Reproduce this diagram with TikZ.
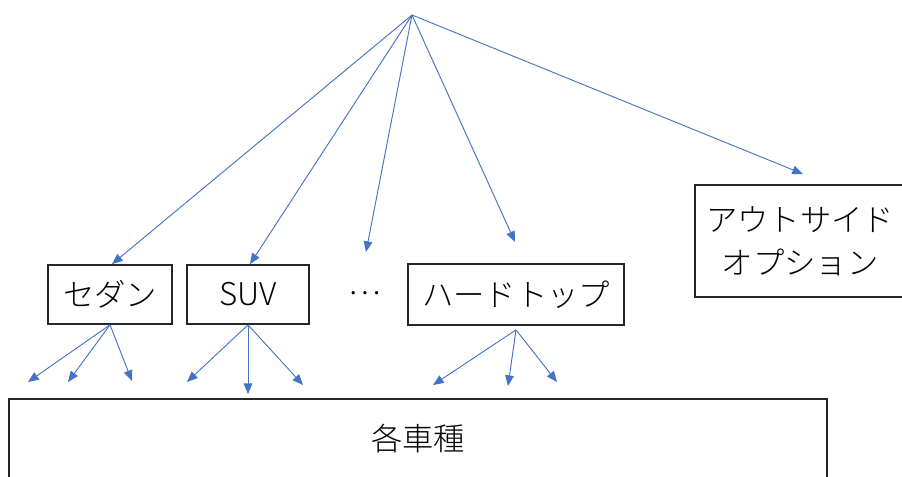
\documentclass[tikz,border=0pt]{standalone}
\usepackage{fontspec}
\setmainfont{Noto Sans CJK JP Light}
\usetikzlibrary{arrows.meta}
\definecolor{arrowblue}{RGB}{68,114,196}
\tikzset{
  box/.style={draw=black!85, line width=1.3pt, inner sep=0pt, font=\fontsize{23.5pt}{28pt}\selectfont},
  conn/.style={draw=arrowblue, line width=0.7pt, -{Triangle[length=8pt,width=6.5pt]}},
}
\begin{document}
\begin{tikzpicture}[x=0.75pt,y=-0.75pt]
\useasboundingbox (0,0) rectangle (902,477);
\clip (0,0) rectangle (902,477);
% boxes
\node[box, minimum width={124*0.75pt}, minimum height={59*0.75pt}] (sedan) at (110,294.5) {セダン};
\node[box, minimum width={122*0.75pt}, minimum height={59*0.75pt}] (suv) at (248,294.5) {SUV};
\node[font=\fontsize{23.5pt}{28pt}\selectfont] (dots) at (365,293) {…};
\node[box, minimum width={216*0.75pt}, minimum height={61*0.75pt}] (hard) at (516,294.5) {ハードトップ};
\node[box, minimum width={210*0.75pt}, minimum height={112*0.75pt}, align=center] (out) at (800,241) {アウトサイド\\[4pt]オプション};
\node[box, minimum width={818*0.75pt}, minimum height={80*0.75pt}] (all) at (418,439) {各車種};
% free ends
\coordinate (apex) at (412,15);
\coordinate (t3) at (366,252);
\coordinate (t4) at (515,242);
\coordinate (t5) at (803,174);
\coordinate (s1) at (28,382);
\coordinate (s2) at (68,382);
\coordinate (s3) at (132,381);
\coordinate (u1) at (187,382);
\coordinate (u2) at (248,394);
\coordinate (u3) at (303,385);
\coordinate (h1) at (433,385);
\coordinate (h2) at (508,386);
\coordinate (h3) at (557,382);
% top arrows
\draw[conn] (apex) -- ([xshift=1.5pt]sedan.north);
\draw[conn] (apex) -- ([xshift=1.5pt]suv.north);
\draw[conn] (apex) -- (t3);
\draw[conn] (apex) -- (t4);
\draw[conn] (apex) -- (t5);
% lower arrows
\foreach \t in {s1,s2,s3} \draw[conn] (sedan.south) -- (\t);
\foreach \t in {u1,u2,u3} \draw[conn] (suv.south) -- (\t);
\foreach \t in {h1,h2,h3} \draw[conn] ([yshift=-3pt]hard.south) -- (\t);
\end{tikzpicture}
\end{document}
